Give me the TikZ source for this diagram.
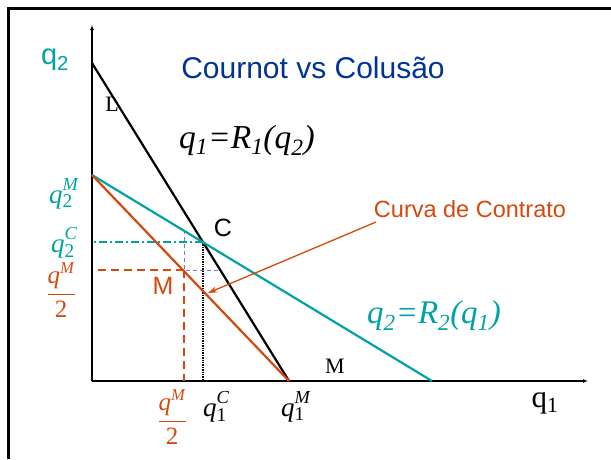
\documentclass[tikz,border=0pt]{standalone}
\usepackage{amsmath}
\usepackage{fontspec}
\setmainfont{Liberation Serif}
\newfontfamily\arial{Liberation Sans}
\usetikzlibrary{arrows.meta}
\definecolor{myteal}{RGB}{0,163,163}
\definecolor{myorange}{RGB}{214,72,12}
\definecolor{myblue}{RGB}{0,51,153}
\definecolor{mylilac}{RGB}{120,120,220}
\newcommand{\qss}[2]{\textit{q}\rlap{\raisebox{-0.35ex}{\scalebox{0.72}{#1}}}\raisebox{1.05ex}{\scalebox{0.68}{\textit{#2}}}}
\newcommand{\qhalf}{$\dfrac{\mbox{\textit{q}\raisebox{0.95ex}{\scalebox{0.66}{\textit{M}}}}}{\mbox{2}}$}

\begin{document}
\begin{tikzpicture}[x=1pt,y=-1pt]
\useasboundingbox (0,0) rectangle (611,459);
% frame
\draw[line width=3pt] (8,459) -- (8,8) -- (611,8);

% points
\coordinate (O) at (92,381);
\coordinate (ytop) at (92,25);
\coordinate (xtip) at (588,381);
\coordinate (Ltop) at (92,63);
\coordinate (q2M) at (92,175);
\coordinate (q1M) at (289,381);
\coordinate (Rend) at (432,381);
\coordinate (C) at (203,242);
\coordinate (M) at (184,270);
\coordinate (Ctop) at (184,230);
\coordinate (Lcut) at (221,270);

% axes
\draw[line width=1.3pt, -{Latex[length=5pt,width=4pt]}] (O) -- (ytop);
\draw[line width=1.3pt, -{Latex[length=5pt,width=4pt]}] (O) -- (xtip);

% guides
\draw[myteal, line width=1.3pt, dash pattern=on 8pt off 3pt on 2pt off 3pt] (C) -- (C -| O);
\draw[black, line width=1.4pt, densely dotted] (C) -- (C |- O);
\draw[mylilac, line width=0.9pt, dash pattern=on 4pt off 3pt] (Ctop) -- (M) -- (Lcut);
\draw[myorange, line width=1.5pt, dash pattern=on 8pt off 5pt] (M) -- (97,270);
\draw[myorange, line width=1.5pt, dash pattern=on 8pt off 5pt] (M) -- (M |- O);

% curves
\draw[line width=2.2pt] (Ltop) -- (q1M);
\draw[myteal, line width=2.2pt] (q2M) -- (Rend);
\draw[myorange, line width=2.2pt] (q2M) -- (q1M);

% labels
\node[myteal, font=\arial\fontsize{29}{32}\selectfont] (ylab) at (55,60) {q\textsubscript{2}};
\node[font=\fontsize{31}{34}\selectfont] (xlab) at (545,403) {q\textsubscript{1}};
\node[myblue, font=\arial\fontsize{30}{34}\selectfont] (title) at (313,68) {Cournot vs Colusão};
\node[font=\fontsize{22}{26}\selectfont] (Llab) at (112,104) {L};
\node[font=\fontsize{22}{26}\selectfont] (Mlab) at (335,366) {M};
\node[font=\itshape\fontsize{33.5}{38}\selectfont] (R1) at (247,140) {q\textsubscript{1}=R\textsubscript{1}(q\textsubscript{2})};
\node[myteal, font=\itshape\fontsize{33}{38}\selectfont] (R2) at (434,316) {q\textsubscript{2}=R\textsubscript{2}(q\textsubscript{1})};
\node[font=\arial\fontsize{25}{28}\selectfont] (Clab) at (223,228) {C};
\node[myorange, font=\arial\fontsize{25}{28}\selectfont] (Mpt) at (163,286) {M};
\node[myorange, font=\arial\fontsize{23.5}{28}\selectfont] (contr) at (470,209) {Curva de Contrato};
\draw[myorange, line width=1.3pt, -{Stealth[length=9pt,width=6pt]}] (376,222) -- (208,293);

% axis values
\node[myteal, font=\fontsize{27}{30}\selectfont, inner sep=1pt] (q2Mlab) at (64,194) {\qss{2}{M}};
\node[myteal, font=\fontsize{27}{30}\selectfont, inner sep=1pt] (q2Clab) at (64,243) {\qss{2}{C}};
\node[myorange, font=\fontsize{25}{28}\selectfont, inner sep=1pt] (hlfy) at (61,290) {\qhalf};
\node[myorange, font=\fontsize{25}{28}\selectfont, inner sep=1pt] (hlfx) at (172,417) {\qhalf};
\node[font=\fontsize{27}{30}\selectfont] (q1Clab) at (216,407) {\qss{1}{C}};
\node[font=\fontsize{27}{30}\selectfont] (q1Mlab) at (296,407) {\qss{1}{M}};
\end{tikzpicture}
\end{document}
